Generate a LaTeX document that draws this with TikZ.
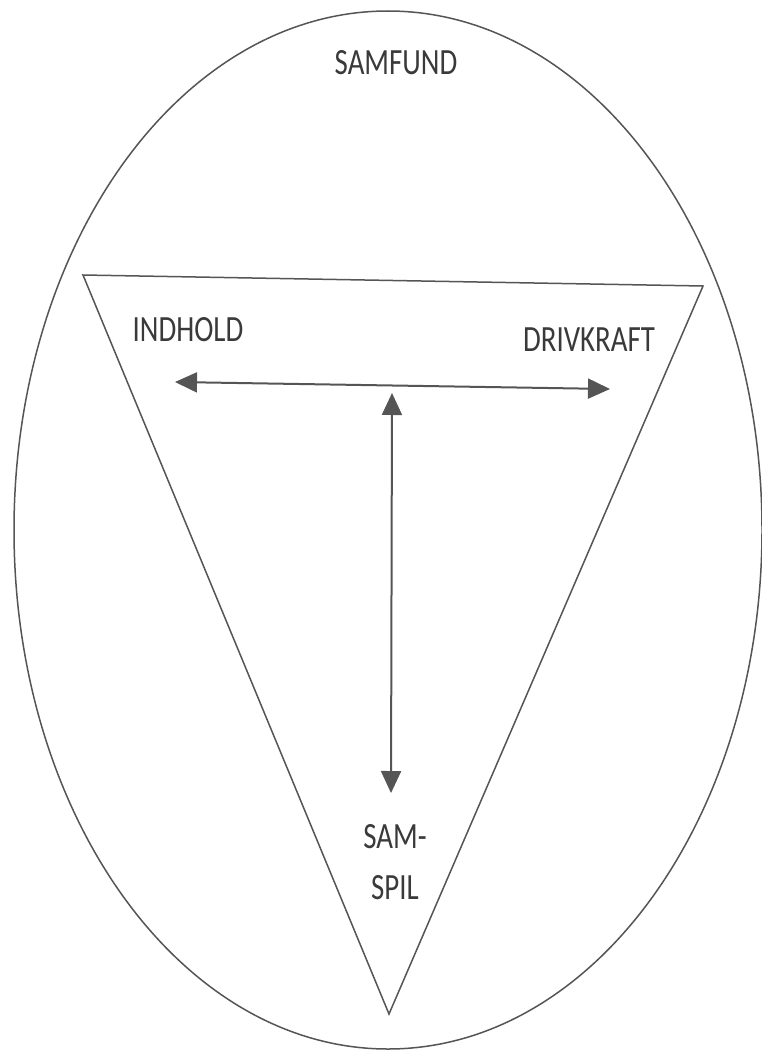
\documentclass[tikz,border=0pt]{standalone}
\usepackage{fontspec}
\setmainfont{Carlito}[FakeStretch=0.78]
\usetikzlibrary{arrows.meta}
\definecolor{linegray}{HTML}{555555}
\definecolor{textgray}{HTML}{3A3A3A}
\tikzset{
  outline/.style={draw=linegray, line width=1.5pt},
  link/.style={draw=linegray, line width=2pt, {Triangle[length=22pt,width=20pt]}-{Triangle[length=22pt,width=20pt]}},
  label/.style={text=textgray, font=\fontsize{37}{40}\selectfont, inner sep=0pt, anchor=center}
}
\begin{document}
\begin{tikzpicture}[x=1pt,y=-1pt]
\useasboundingbox (0,0) rectangle (761,1054);
\fill[white] (0,0) rectangle (761,1054);
% ellipse
\draw[outline] (388,530) ellipse [x radius=374, y radius=519];
% triangle
\coordinate (tl) at (83,275);
\coordinate (tr) at (703,286);
\coordinate (ap) at (389,1014);
\draw[outline, line join=miter] (tl) -- (tr) -- (ap) -- cycle;
% labels
\node[label] (samfund) at (396,63) {SAMFUND};
\node[label] (indhold) at (188,330) {INDHOLD};
\node[label] (drivkraft) at (589,340) {DRIVKRAFT};
\node[label] (sam) at (395,837) {SAM-};
\node[label] (spil) at (395,888) {SPIL};
% arrows
\coordinate (hl) at (175,382);
\coordinate (hr) at (610,389);
\coordinate (vt) at (392,393);
\coordinate (vb) at (391,793);
\draw[link] (hl) -- (hr);
\draw[link] (vt) -- (vb);
\end{tikzpicture}
\end{document}
